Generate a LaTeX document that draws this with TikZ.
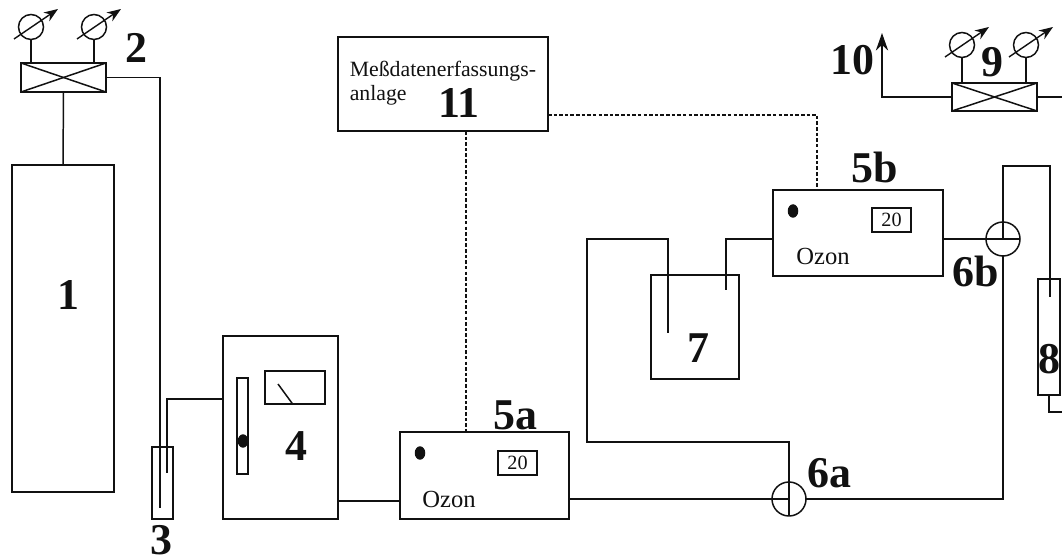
\documentclass[tikz,border=0pt]{standalone}
\usepackage{fontspec}
\setmainfont{Liberation Serif}
\usepackage{xcolor}
\usetikzlibrary{arrows.meta, shapes.geometric}
\definecolor{diagline}{HTML}{111111}

\begin{document}
\begin{tikzpicture}[
  x=0.02cm, y=-0.02cm,
  line width=0.85pt, draw=diagline, text=diagline,
  box/.style={draw, rectangle, inner sep=0pt, outer sep=0pt},
  valve/.style={draw, circle, inner sep=0pt, outer sep=0pt, minimum size=0.68cm},
  gauge/.style={draw, circle, inner sep=0pt, outer sep=0pt, minimum size=0.5cm},
  dotmark/.style={fill=diagline, ellipse, inner sep=0pt, outer sep=0pt, minimum width=0.21cm, minimum height=0.27cm},
  tag/.style={anchor=base, inner sep=0pt, font=\fontsize{25}{25}\selectfont\bfseries},
  ozon/.style={anchor=base, inner sep=0pt, font=\fontsize{14}{14}\selectfont},
  readout/.style={box, minimum width=0.78cm, minimum height=0.48cm, font=\fontsize{11.5}{12}\selectfont},
  needle/.style={-{Stealth[length=8pt,width=6pt]}, line width=0.8pt},
  signal/.style={line width=0.6pt, dash pattern=on 2pt off 1.2pt}]
\useasboundingbox (0,0) rectangle (1062,560);

% vessels and apparatus
\node[box, minimum width=2.04cm, minimum height=6.54cm] (cyl1) at (63,328.5) {};
\node[box, minimum width=1.7cm, minimum height=0.58cm] (reg2) at (63.5,77.5) {};
\node[box, minimum width=0.42cm, minimum height=1.44cm] (vial3) at (162.5,483) {};
\node[box, minimum width=2.3cm, minimum height=3.66cm] (box4) at (280.5,427.5) {};
\node[box, minimum width=0.22cm, minimum height=1.92cm] (rota4) at (242.5,426) {};
\node[box, minimum width=1.2cm, minimum height=0.66cm] (meter4) at (295,387.5) {};
\node[box, minimum width=3.38cm, minimum height=1.74cm] (box5a) at (484.5,475.5) {};
\node[box, minimum width=3.4cm, minimum height=1.72cm] (box5b) at (858,233) {};
\node[box, minimum width=1.76cm, minimum height=2.08cm] (vessel7) at (695,327) {};
\node[box, minimum width=0.44cm, minimum height=2.32cm] (vial8) at (1049,337) {};
\node[box, minimum width=1.7cm, minimum height=0.56cm] (reg9) at (994.5,97) {};
\node[box, minimum width=4.2cm, minimum height=1.88cm] (box11) at (443,84) {};
\node[valve] (v6a) at (789,499) {};
\node[valve] (v6b) at (1003,239) {};

\foreach \nm/\xx/\yy in {dot4/243/441,dot5a/420/453,dot5b/793/211}
  \node[dotmark] (\nm) at (\xx,\yy) {};
\node[readout] (read5a) at (517.5,463) {20};
\node[readout] (read5b) at (891.5,220) {20};
\node[ozon] (oz5a) at (449,508) {Ozon};
\node[ozon] (oz5b) at (823,265) {Ozon};

% gauges on the regulators
\foreach \nm/\xx/\yy/\rg in {g2a/31/27/reg2,g2b/94/27/reg2,g9a/962/45/reg9,g9b/1026/45/reg9}
 {
  \node[gauge] (\nm) at (\xx,\yy) {};
  \coordinate (\nm tail) at (\xx-17,\yy+12);
  \coordinate (\nm tip) at (\xx+27,\yy-18);
  \draw[needle] (\nm tail)--(\nm tip);
  \draw (\nm.south)--(\nm.south |- \rg.north);
 }
\foreach \rg in {reg2,reg9}
 {
  \draw (\rg.north west)--(\rg.south east);
  \draw (\rg.south west)--(\rg.north east);
 }

% free ends
\coordinate (pipe3long) at (160,508);
\coordinate (pipe3short) at (167,473);
\coordinate (port4) at (223,399);
\coordinate (port5a) at (400,501);
\coordinate (loopa) at (587,442);
\coordinate (loopb) at (587,239);
\coordinate (loopc) at (668,239);
\coordinate (pipe7in) at (668,333);
\coordinate (pipe7out) at (726,290);
\coordinate (port5b) at (773,239);
\coordinate (pipe8top) at (1050,166);
\coordinate (pipe8end) at (1050,297);
\coordinate (drain8) at (1049,412);
\coordinate (edge8) at (1062,412);
\coordinate (edge9) at (1062,97);
\coordinate (out10) at (882,33);
\coordinate (tap11) at (466,131);
\coordinate (tap11r) at (548,115);
\coordinate (tap5b) at (817,190);
\coordinate (needlea) at (278,384);
\coordinate (needleb) at (293,404.5);

% gas lines
\draw (reg2.south)--(cyl1.north);
\draw (reg2.east)-|(pipe3long);
\draw (port4)-|(pipe3short);
\draw (needlea)--(needleb);
\draw (port5a -| box4.east)--(port5a);
\draw (box5a.east |- v6a)--(v6a.west);
\draw (v6a.west)--(v6a.center);
\draw (v6a.north)--(v6a.south);
\draw (v6a.north)|-(loopa)--(loopb)--(loopc)--(pipe7in);
\draw (port5b)-|(pipe7out);
\draw (box5b.east |- v6b)--(v6b.west);
\draw (v6b.west)--(v6b.east);
\draw (v6b.north)--(v6b.center);
\draw (v6a.east)-|(v6b.south);
\draw (v6b.north)|-(pipe8top)--(pipe8end);
\draw (vial8.south)--(drain8)--(edge8);
\draw (reg9.east)--(edge9);
\draw[-{Stealth[length=10pt,width=7pt]}] (reg9.west)-|(out10);

% signal lines
\draw[signal] (tap11)--(tap11 |- box5a.north);
\draw[signal] (tap11r)-|(tap5b);

% labels
\foreach \nm/\xx/\yy/\lbl in {t1/68/310/1,t2/136/63/2,t3/161/555/3,t4/296/460/4,t5a/515/430/5a,t5b/875/183/5b,t6a/829/488/6a,t6b/976/287/6b,t7/698/363/7,t8/1049/374/8,t9/992/77/9,t10/852/75/10,t11/459/118/11}
  \node[tag] (\nm) at (\xx,\yy) {\lbl};
\node[anchor=base west, inner sep=0pt, font=\fontsize{12.4}{12.4}\selectfont] (mess) at (349,77) {Meßdatenerfassungs-};
\node[anchor=base west, inner sep=0pt, font=\fontsize{12.4}{12.4}\selectfont] (anl) at (349,101) {anlage};
\end{tikzpicture}
\end{document}
